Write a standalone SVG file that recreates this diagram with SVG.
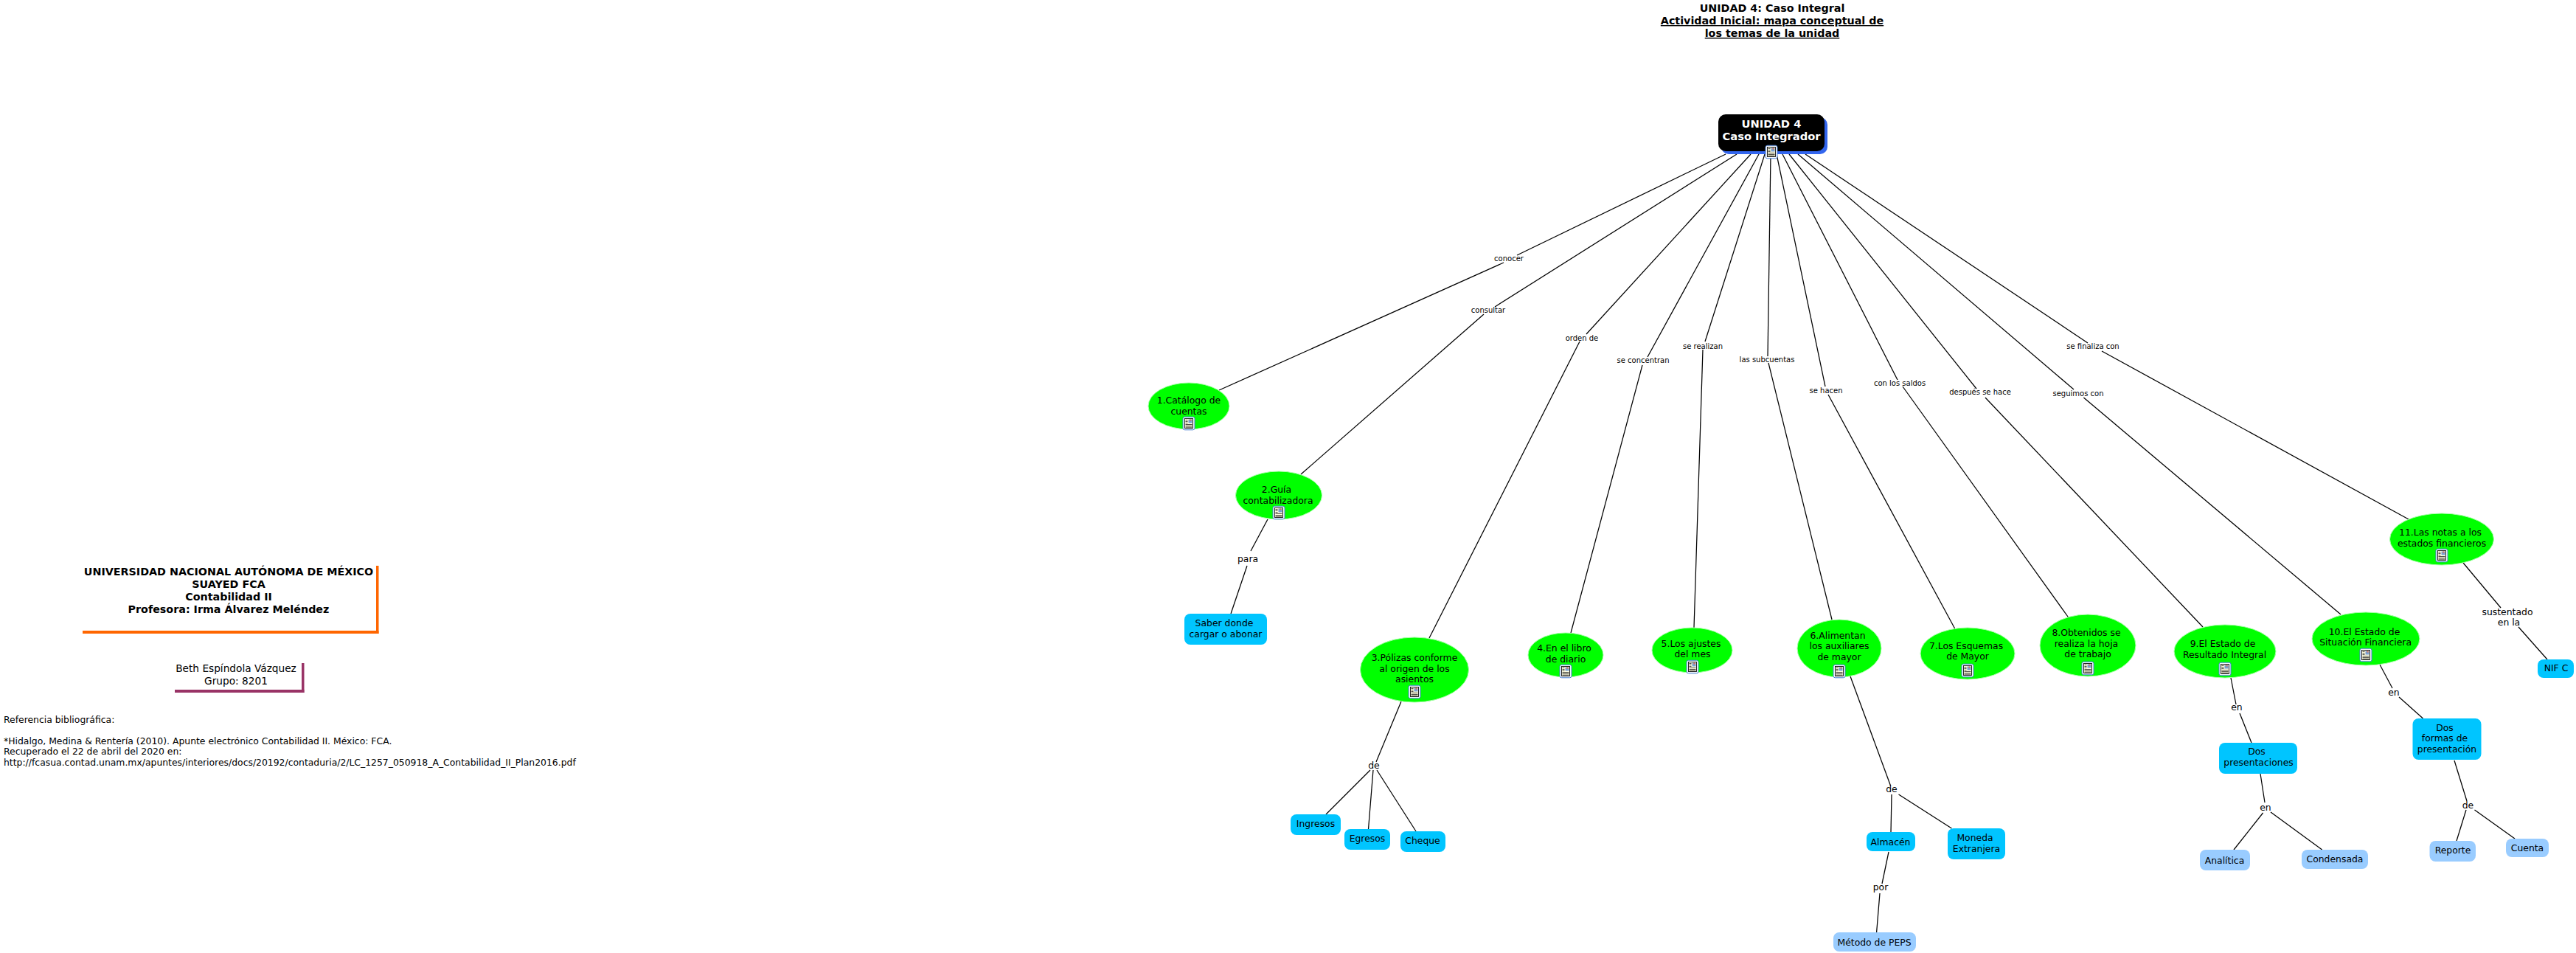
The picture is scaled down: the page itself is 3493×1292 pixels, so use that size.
<svg xmlns="http://www.w3.org/2000/svg" width="3493" height="1292" viewBox="0 0 3493 1292">
<style>
text{font-family:"DejaVu Sans","Liberation Sans",sans-serif;font-size:12.4px;fill:#000;text-anchor:middle}
.c line{stroke:#000;stroke-width:1.25}
.g{fill:#00ff00;stroke:#aaffaa;stroke-width:1}
.b{fill:#00c5ff}
.l{fill:#99ccff}
.s{font-size:10px}
.h{font-weight:bold;font-size:14.3px}
.w{fill:#fff;font-weight:bold;font-size:14.7px}
.r{text-anchor:start}
</style>
<defs>
<g id="icon">
<rect x="-8" y="-8.8" width="16" height="17.6" rx="2.5" fill="#f4f8ff" stroke="#4a7fd0" stroke-width="1"/>
<rect x="-5.5" y="-6.5" width="11" height="13" fill="#ffffe0" stroke="#111" stroke-width="0.9"/>
<rect x="-0.5" y="-5.5" width="5" height="5" fill="#7a9fd0"/>
<rect x="1.5" y="-5.5" width="2" height="2" fill="#e07050"/>
<path d="M-4.5-4.5h3M-4.5-2.5h3M-4.5-.5h3M-4.5 1.5h9M-4.5 3.5h9M-4.5 5.2h9" stroke="#222" stroke-width="0.8" fill="none"/>
</g>
</defs>
<rect width="3493" height="1292" fill="#fff"/>
<g id="connectors" class="c">
<line x1="2340" y1="209" x2="2057" y2="346"/><line x1="2039" y1="356" x2="1653" y2="529"/>
<line x1="2355" y1="209" x2="2027" y2="416"/><line x1="2012" y1="426" x2="1764" y2="643"/>
<line x1="2374" y1="209" x2="2151" y2="453"/><line x1="2142" y1="463" x2="1938" y2="865"/>
<line x1="2385" y1="209" x2="2234" y2="484"/><line x1="2227" y1="495" x2="2130" y2="858"/>
<line x1="2393" y1="209" x2="2312" y2="463"/><line x1="2309" y1="474" x2="2297" y2="851"/>
<line x1="2401" y1="209" x2="2397" y2="483"/><line x1="2398" y1="492" x2="2484" y2="840"/>
<line x1="2409" y1="209" x2="2475" y2="524"/><line x1="2479" y1="535" x2="2650.6" y2="852"/>
<line x1="2417" y1="209" x2="2573" y2="515"/><line x1="2580" y1="524" x2="2804.7" y2="837"/>
<line x1="2426" y1="209" x2="2680" y2="527"/><line x1="2692" y1="539" x2="2987" y2="850"/>
<line x1="2438" y1="209" x2="2812" y2="528"/><line x1="2825.4" y1="539" x2="3174" y2="833"/>
<line x1="2448" y1="209" x2="2831" y2="465"/><line x1="2850" y1="476" x2="3266" y2="704"/>
<line x1="1719" y1="704" x2="1696" y2="747"/><line x1="1691" y1="767" x2="1669" y2="832"/>
<line x1="1900" y1="951" x2="1866" y2="1033"/>
<line x1="1858" y1="1044" x2="1798" y2="1104"/><line x1="1862" y1="1044" x2="1855.5" y2="1124"/><line x1="1867" y1="1044" x2="1920" y2="1127"/>
<line x1="2509" y1="917" x2="2563.5" y2="1065"/>
<line x1="2565" y1="1077" x2="2564" y2="1128"/><line x1="2574.5" y1="1077" x2="2646.4" y2="1123"/>
<line x1="2561" y1="1155" x2="2552" y2="1198"/><line x1="2549" y1="1211" x2="2544.6" y2="1264"/>
<line x1="3025" y1="919" x2="3032" y2="955"/><line x1="3037" y1="967" x2="3053" y2="1007"/>
<line x1="3065" y1="1049" x2="3071" y2="1088"/>
<line x1="3068.6" y1="1102" x2="3029" y2="1152"/><line x1="3079" y1="1101" x2="3148.7" y2="1152"/>
<line x1="3227" y1="901" x2="3244" y2="933"/><line x1="3253" y1="945" x2="3285.5" y2="974"/>
<line x1="3328" y1="1031" x2="3345" y2="1086"/>
<line x1="3344" y1="1098" x2="3331" y2="1140"/><line x1="3355.5" y1="1098" x2="3410" y2="1137"/>
<line x1="3340" y1="763" x2="3391" y2="824"/><line x1="3415" y1="850" x2="3454" y2="894"/>
</g>
<g id="title"><text class="h" x="2403" y="16">UNIDAD 4: Caso Integral</text><text class="h" x="2403" y="33" text-decoration="underline">Actividad Inicial: mapa conceptual de </text><text class="h" x="2403" y="50" text-decoration="underline">los temas de la unidad</text></g>
<g id="root"><rect x="2334" y="159" width="144" height="50" rx="10" fill="#3366ee"/><rect x="2330" y="155" width="144" height="50" rx="10" fill="#000"/><text class="w" x="2402" y="173">UNIDAD 4</text><text class="w" x="2402" y="190">Caso Integrador</text><use href="#icon" x="2402" y="206"/></g>
<g id="n1"><ellipse class="g" cx="1612" cy="550.5" rx="55" ry="31.5"/><text x="1612" y="547">1.Catálogo de</text><text x="1612" y="562">cuentas</text><use href="#icon" x="1612" y="574"/></g>
<g id="n2"><ellipse class="g" cx="1734" cy="671.5" rx="58.5" ry="32.5"/><text x="1731" y="668">2.Guía</text><text x="1733" y="683">contabilizadora</text><use href="#icon" x="1734" y="695"/></g>
<g id="n3"><ellipse class="g" cx="1918" cy="908" rx="73.5" ry="44"/><text x="1918" y="896">3.Pólizas conforme</text><text x="1918" y="911">al origen de los</text><text x="1918" y="925">asientos</text><use href="#icon" x="1918" y="938"/></g>
<g id="n4"><ellipse class="g" cx="2123" cy="888" rx="51" ry="30"/><text x="2121" y="883">4.En el libro</text><text x="2123" y="898">de diario</text><use href="#icon" x="2123" y="910"/></g>
<g id="n5"><ellipse class="g" cx="2294.5" cy="881.5" rx="54.5" ry="30.5"/><text x="2293" y="877">5.Los ajustes</text><text x="2295" y="891">del mes</text><use href="#icon" x="2295" y="904"/></g>
<g id="n6"><ellipse class="g" cx="2494" cy="879" rx="57" ry="39"/><text x="2492" y="866">6.Alimentan</text><text x="2494" y="880">los auxiliares</text><text x="2494" y="895">de mayor</text><use href="#icon" x="2494" y="910"/></g>
<g id="n7"><ellipse class="g" cx="2668" cy="886" rx="64" ry="35"/><text x="2666" y="880">7.Los Esquemas</text><text x="2668" y="894">de Mayor</text><use href="#icon" x="2668" y="909"/></g>
<g id="n8"><ellipse class="g" cx="2831" cy="875" rx="65" ry="42"/><text x="2829" y="862">8.Obtenidos se</text><text x="2829" y="877">realiza la hoja</text><text x="2831" y="891">de trabajo</text><use href="#icon" x="2831" y="906"/></g>
<g id="n9"><ellipse class="g" cx="3017" cy="883" rx="69" ry="36"/><text x="3014" y="877">9.El Estado de</text><text x="3016.5" y="892">Resultado Integral</text><use href="#icon" x="3017" y="907"/></g>
<g id="n10"><ellipse class="g" cx="3208" cy="866" rx="73" ry="36"/><text x="3206" y="861">10.El Estado de</text><text x="3207.6" y="875">Situación Financiera</text><use href="#icon" x="3208" y="888"/></g>
<g id="n11"><ellipse class="g" cx="3311" cy="731" rx="70.5" ry="35"/><text x="3309" y="726">11.Las notas a los</text><text x="3311" y="741">estados financieros</text><use href="#icon" x="3311" y="753"/></g>
<g id="saber"><rect class="b" x="1606" y="832" width="112" height="42" rx="8"/><text x="1660" y="849">Saber donde</text><text x="1662" y="864">cargar o abonar</text></g>
<g id="ingresos"><rect class="b" x="1750" y="1104" width="68" height="28" rx="8"/><text x="1784" y="1121">Ingresos</text></g>
<g id="egresos"><rect class="b" x="1823" y="1124" width="62" height="28" rx="8"/><text x="1854" y="1141">Egresos</text></g>
<g id="cheque"><rect class="b" x="1899" y="1127" width="61" height="28" rx="8"/><text x="1929" y="1144">Cheque</text></g>
<g id="almacen"><rect class="b" x="2531" y="1128" width="66" height="26" rx="8"/><text x="2563.5" y="1146">Almacén</text></g>
<g id="moneda"><rect class="b" x="2641" y="1123" width="78" height="42" rx="8"/><text x="2678" y="1140">Moneda</text><text x="2680" y="1155">Extranjera</text></g>
<g id="peps"><rect class="l" x="2486" y="1264" width="112" height="26" rx="8"/><text x="2541.6" y="1282">Método de PEPS</text></g>
<g id="dosp"><rect class="b" x="3009" y="1007" width="106" height="42" rx="8"/><text x="3060" y="1023">Dos</text><text x="3062.5" y="1038">presentaciones</text></g>
<g id="analitica"><rect class="l" x="2983" y="1152" width="68" height="28" rx="8"/><text x="3016.5" y="1171">Analítica</text></g>
<g id="condensada"><rect class="l" x="3121" y="1152" width="90" height="26" rx="8"/><text x="3166" y="1169">Condensada</text></g>
<g id="dosf"><rect class="b" x="3271.5" y="974" width="93" height="56" rx="8"/><text x="3315" y="991">Dos</text><text x="3315" y="1005">formas de</text><text x="3318" y="1020">presentación</text></g>
<g id="reporte"><rect class="l" x="3294.5" y="1140" width="62.5" height="28" rx="8"/><text x="3326" y="1157">Reporte</text></g>
<g id="cuenta"><rect class="l" x="3398" y="1137" width="58" height="25" rx="8"/><text x="3427" y="1154">Cuenta</text></g>
<g id="nifc"><rect class="b" x="3441" y="894" width="49" height="25" rx="8"/><text x="3466" y="910">NIF C</text></g>
<g id="labels">
<text class="s" x="2046" y="354">conocer</text>
<text class="s" x="2018" y="424">consultar</text>
<text class="s" x="2145" y="462">orden de</text>
<text class="s" x="2228" y="492">se concentran</text>
<text class="s" x="2309" y="473">se realizan</text>
<text class="s" x="2396" y="491">las subcuentas</text>
<text class="s" x="2476" y="533">se hacen</text>
<text class="s" x="2576" y="523">con los saldos</text>
<text class="s" x="2685" y="535">después se hace</text>
<text class="s" x="2818" y="537">seguimos con</text>
<text class="s" x="2838" y="473">se finaliza con</text>
<text x="1692" y="762">para</text>
<text x="1863" y="1042">de</text>
<text x="2565" y="1074">de</text>
<text x="2550" y="1207">por</text>
<text x="3033" y="963">en</text>
<text x="3072" y="1099">en</text>
<text x="3246" y="943">en</text>
<text x="3346.5" y="1096">de</text>
<text x="3400" y="834">sustentado</text><text x="3402" y="848">en la</text>
</g>
<g id="univ"><rect x="510" y="767" width="3.5" height="92" fill="#ff6600"/><rect x="112" y="855" width="401.5" height="4" fill="#ff6600"/><text class="h" x="310" y="780">UNIVERSIDAD NACIONAL AUTÓNOMA DE MÉXICO</text><text class="h" x="310" y="797">SUAYED FCA</text><text class="h" x="310" y="814">Contabilidad II</text><text class="h" x="310" y="831">Profesora: Irma Álvarez Meléndez</text></g>
<g id="beth"><rect x="409" y="899" width="3.5" height="40" fill="#993366"/><rect x="237" y="935" width="175.5" height="4" fill="#993366"/><text style="font-size:13.7px" x="320" y="911">Beth Espíndola Vázquez</text><text style="font-size:13.7px" x="320" y="928">Grupo: 8201</text></g>
<g id="refs"><text class="r" x="5" y="980">Referencia bibliográfica:</text><text class="r" x="5" y="1009">*Hidalgo, Medina &amp; Rentería (2010). Apunte electrónico Contabilidad II. México: FCA.</text><text class="r" x="5" y="1023">Recuperado el 22 de abril del 2020 en:</text><text class="r" x="5" y="1038">http://fcasua.contad.unam.mx/apuntes/interiores/docs/20192/contaduria/2/LC_1257_050918_A_Contabilidad_II_Plan2016.pdf</text></g>
</svg>
